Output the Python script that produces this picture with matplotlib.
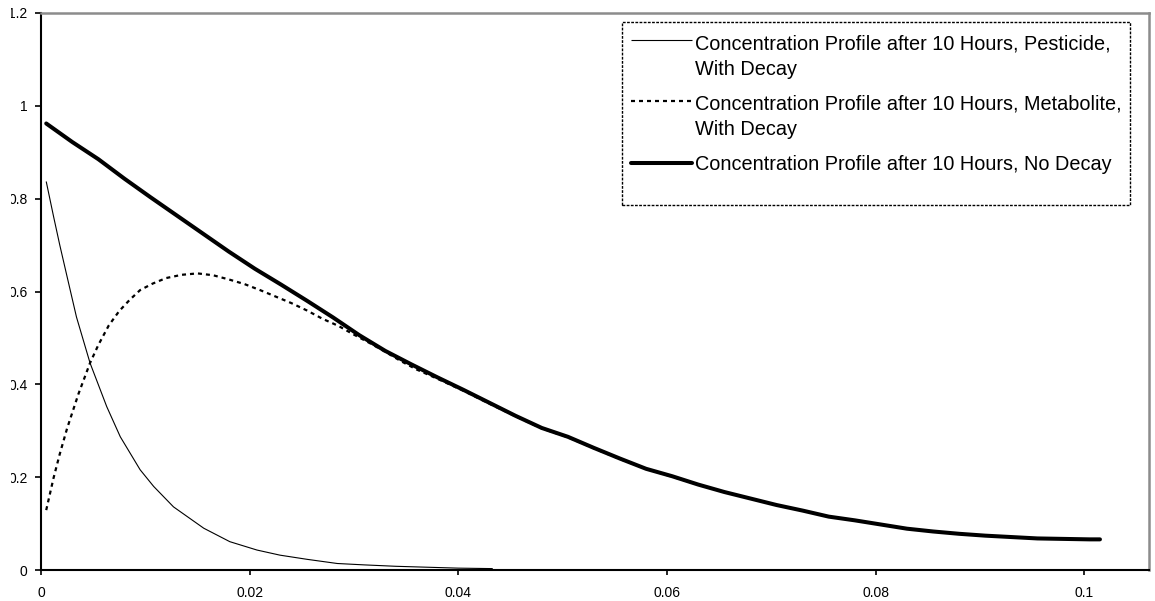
import numpy as np
import matplotlib
matplotlib.use("Agg")
import matplotlib.pyplot as plt
from matplotlib.legend_handler import HandlerLine2D
from matplotlib.patches import Rectangle
from matplotlib.transforms import Bbox, TransformedBbox

plt.rcParams['font.family'] = ['Liberation Sans', 'DejaVu Sans']

# Distance (x) and relative concentration after 10 hours
pest_x = [0.0005, 0.0012, 0.0018, 0.0025, 0.0034, 0.0047, 0.0063, 0.0076, 0.0095, 0.0108,
          0.0127, 0.0156, 0.0181, 0.0207, 0.0229, 0.0255, 0.0284, 0.0310, 0.0340, 0.0370,
          0.0400, 0.0433]
pest_c = [0.837, 0.762, 0.700, 0.632, 0.545, 0.446, 0.352, 0.287, 0.216, 0.180,
          0.136, 0.090, 0.061, 0.043, 0.032, 0.023, 0.014, 0.011, 0.008, 0.006,
          0.004, 0.003]

met_x = [0.0005, 0.0012, 0.0018, 0.0025, 0.0036, 0.0047, 0.0055, 0.0065, 0.0075, 0.0085,
         0.0095, 0.0107, 0.0120, 0.0135, 0.0150, 0.0165, 0.0180, 0.0195, 0.0210, 0.0225,
         0.0240, 0.0255, 0.0270, 0.0285, 0.0300, 0.0315, 0.0330, 0.0345, 0.0360, 0.0380,
         0.0405, 0.0430, 0.0455, 0.0480, 0.0505, 0.0530, 0.0555, 0.0580, 0.0605, 0.0630,
         0.0655, 0.0680, 0.0705, 0.0730, 0.0755, 0.0780, 0.0805, 0.0830, 0.0855, 0.0880,
         0.0905, 0.0930, 0.0955, 0.0980, 0.1005, 0.1015]
met_c = [0.129, 0.198, 0.250, 0.305, 0.380, 0.446, 0.485, 0.527, 0.558, 0.582,
         0.603, 0.617, 0.629, 0.636, 0.639, 0.635, 0.626, 0.616, 0.603, 0.589,
         0.575, 0.559, 0.541, 0.526, 0.507, 0.489, 0.470, 0.450, 0.432, 0.412,
         0.386, 0.358, 0.331, 0.305, 0.286, 0.262, 0.239, 0.218, 0.201, 0.184,
         0.168, 0.154, 0.140, 0.128, 0.115, 0.107, 0.098, 0.089, 0.083, 0.078,
         0.074, 0.071, 0.068, 0.067, 0.066, 0.066]

total_x = [0.0005, 0.0030, 0.0055, 0.0080, 0.0105, 0.0130, 0.0155, 0.0180, 0.0205, 0.0230,
           0.0255, 0.0280, 0.0305, 0.0330, 0.0355, 0.0380, 0.0405, 0.0430, 0.0455, 0.0480,
           0.0505, 0.0530, 0.0555, 0.0580, 0.0605, 0.0630, 0.0655, 0.0680, 0.0705, 0.0730,
           0.0755, 0.0780, 0.0805, 0.0830, 0.0855, 0.0880, 0.0905, 0.0930, 0.0955, 0.0980,
           0.1005, 0.1015]
total_c = [0.962, 0.922, 0.885, 0.843, 0.803, 0.764, 0.725, 0.686, 0.649, 0.615,
           0.580, 0.544, 0.506, 0.472, 0.443, 0.415, 0.388, 0.360, 0.332, 0.306,
           0.287, 0.263, 0.240, 0.218, 0.202, 0.184, 0.168, 0.154, 0.140, 0.128,
           0.115, 0.107, 0.098, 0.089, 0.083, 0.078, 0.074, 0.071, 0.068, 0.067,
           0.066, 0.066]

labels = ["Concentration Profile after 10 Hours, Pesticide,\nWith Decay",
          "Concentration Profile after 10 Hours, Metabolite,\nWith Decay",
          "Concentration Profile after 10 Hours, No Decay"]

x_ticks = [0, 0.02, 0.04, 0.06, 0.08, 0.1]
x_ticklabels = ["0", "0.02", "0.04", "0.06", "0.08", "0.1"]
y_ticks = [0, 0.2, 0.4, 0.6, 0.8, 1.0, 1.2]
y_ticklabels = ["0", "0.2", "0.4", "0.6", "0.8", "1", "1.2"]

W, H = 1155, 601
fig = plt.figure(figsize=(W / 100, H / 100), dpi=100)
fig.patch.set_facecolor("white")
ax = fig.add_axes([41 / W, 1 - 570 / H, (1149 - 41) / W, (570 - 13) / H])

l_pest, = ax.plot(pest_x, pest_c, color="black", lw=0.8, solid_capstyle="butt")
l_met, = ax.plot(met_x, met_c, color="black", lw=1.6, linestyle=(0, (1.8, 1.8)))
l_tot, = ax.plot(total_x, total_c, color="black", lw=2.9, solid_capstyle="round")

ax.set_xlim(0, 0.1062)
ax.set_ylim(0, 1.2)
ax.set_xticks(x_ticks)
ax.set_xticklabels(x_ticklabels)
ax.set_yticks(y_ticks)
ax.set_yticklabels(y_ticklabels)
ax.tick_params(axis="x", direction="out", length=3.6, width=1.2, pad=8.0, labelsize=10)
ax.tick_params(axis="y", direction="out", length=4.3, width=1.2, pad=5.5, labelsize=10)

for side in ("left", "bottom"):
    ax.spines[side].set_color("black")
    ax.spines[side].set_linewidth(1.5)
for side in ("top", "right"):
    ax.spines[side].set_color("#8c8c8c")
    ax.spines[side].set_linewidth(1.8)

# y tick labels are cut off at the left edge of the chart area
clip = TransformedBbox(Bbox.from_extents(10.5 / W, 0, 1, 1), fig.transFigure)
for t in ax.yaxis.get_major_ticks(len(y_ticks)):
    t.label1.set_clip_on(True)
    t.label1.set_clip_box(clip)


class FirstLineHandler(HandlerLine2D):
    """Line handler that aligns the sample with the first line of a wrapped label."""
    def __init__(self, shift=0.0, **kw):
        super().__init__(**kw)
        self.shift = shift

    def create_artists(self, legend, orig_handle, xdescent, ydescent, width, height,
                       fontsize, trans):
        artists = super().create_artists(legend, orig_handle, xdescent, ydescent,
                                         width, height, fontsize, trans)
        for a in artists:
            a.set_ydata(np.asarray(a.get_ydata(), dtype=float) + self.shift * fontsize)
        return artists


leg = ax.legend([l_pest, l_met, l_tot], labels,
                loc="upper left", bbox_to_anchor=(630.7 / W, 1 - 34.5 / H),
                bbox_transform=fig.transFigure, frameon=False, fontsize=14.3,
                handlelength=3.07, handletextpad=0.17, labelspacing=0.8,
                borderpad=0, borderaxespad=0,
                handler_map={l_pest: FirstLineHandler(0.85),
                             l_met: FirstLineHandler(0.85)})
for t in leg.get_texts():
    t.set_linespacing(1.42)

frame = Rectangle((621.7 / W, 1 - 205 / H), (1130 - 621.7) / W, (205 - 21.7) / H,
                  transform=fig.transFigure, fill=True, facecolor="white",
                  edgecolor="black", lw=1.0, linestyle=(0, (2, 1)), zorder=4)
ax.add_patch(frame)
frame.set_clip_on(False)
leg.set_zorder(5)

fig.savefig("out.png", dpi=100, facecolor="white")
